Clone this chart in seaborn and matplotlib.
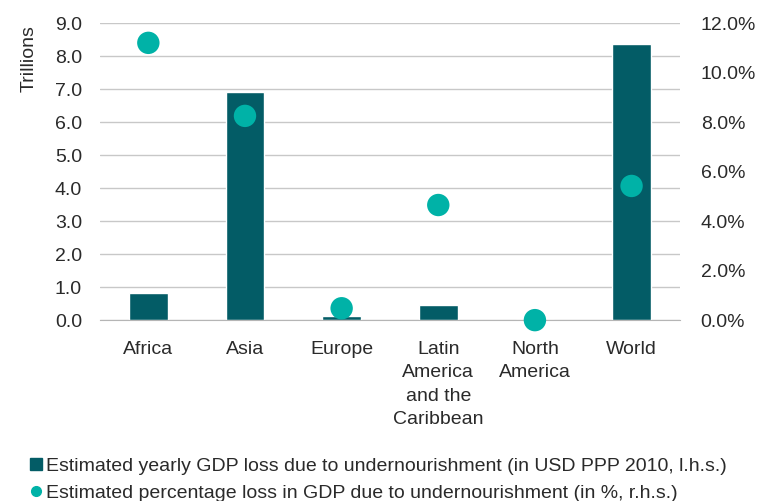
import matplotlib
matplotlib.use("Agg")
from matplotlib import pyplot as plt
from matplotlib.lines import Line2D
import seaborn as sns
import numpy as np
import pandas as pd

regions = ["Africa", "Asia", "Europe", "Latin\nAmerica\nand the\nCaribbean", "North\nAmerica", "World"]
gdp_loss_trillions = [0.83, 6.92, 0.12, 0.46, 0.0, 8.37]
pct_loss = [11.2, 8.25, 0.48, 4.65, 0.0, 5.42]

bar_label = "Estimated yearly GDP loss due to undernourishment (in USD PPP 2010, l.h.s.)"
dot_label = "Estimated percentage loss in GDP due to undernourishment (in %, r.h.s.)"

BAR_COLOR = "#035c66"
DOT_COLOR = "#00b2a7"
GRID_COLOR = "#c8c8c8"
TEXT_COLOR = "#2a2a2a"
FS = 14

sns.set_style("white")
plt.rcParams["font.family"] = ["Liberation Sans", "DejaVu Sans"]
plt.rcParams["font.size"] = FS

df = pd.DataFrame({"region": regions, "gdp": gdp_loss_trillions, "pct": pct_loss})

fig = plt.figure(figsize=(7.6, 5.01), dpi=100)
ax = fig.add_axes([0.1316, 0.361, 0.763, 0.593])

sns.barplot(data=df, x="region", y="gdp", color=BAR_COLOR, width=0.4,
            saturation=1, ax=ax, zorder=2)
ax.set_ylim(0, 9)
ax.set_yticks(np.arange(0, 9.1, 1.0))
ax.set_yticklabels([f"{v:.1f}" for v in np.arange(0, 9.1, 1.0)], color=TEXT_COLOR)
ax.yaxis.grid(True, color=GRID_COLOR, linewidth=1, zorder=0)
ax.set_axisbelow(True)
ax.set_xlim(-0.5, 5.5)
ax.set_xlabel("")
ax.set_ylabel("Trillions", color=TEXT_COLOR)
ax.yaxis.set_label_coords(-0.108, 0.88)
ax.tick_params(axis="y", length=0, pad=13)
ax.tick_params(axis="x", length=0, pad=15, colors=TEXT_COLOR)
for lbl in ax.get_xticklabels():
    lbl.set_linespacing(1.5)
for s in ["top", "left", "right"]:
    ax.spines[s].set_visible(False)
ax.spines["bottom"].set_color("#b5b5b5")
# category separator ticks
ax.set_xticks(np.arange(-0.5, 6.0, 1.0), minor=True)
ax.tick_params(axis="x", which="minor", length=6, color="#b5b5b5", direction="out")

ax2 = ax.twinx()
sns.scatterplot(data=df, x="region", y="pct", color=DOT_COLOR, s=260,
                edgecolor="none", ax=ax2, zorder=3, clip_on=False)
ax2.set_ylim(0, 12)
ax2.set_yticks(np.arange(0, 12.1, 2.0))
ax2.set_yticklabels([f"{v:.1f}%" for v in np.arange(0, 12.1, 2.0)], color=TEXT_COLOR)
ax2.tick_params(axis="y", length=0, pad=15)
ax2.set_ylabel("")
for s in ["top", "left", "right", "bottom"]:
    ax2.spines[s].set_visible(False)

handles = [
    Line2D([], [], marker="s", linestyle="none", color=BAR_COLOR, markersize=9),
    Line2D([], [], marker="o", linestyle="none", color=DOT_COLOR, markersize=7),
]
fig.legend(handles, [bar_label, dot_label], loc="lower left",
           bbox_to_anchor=(0.012, -0.037), frameon=False, handletextpad=0.0,
           handlelength=1.0, labelspacing=0.5, fontsize=FS, labelcolor=TEXT_COLOR)

fig.savefig("out.png", dpi=100)
